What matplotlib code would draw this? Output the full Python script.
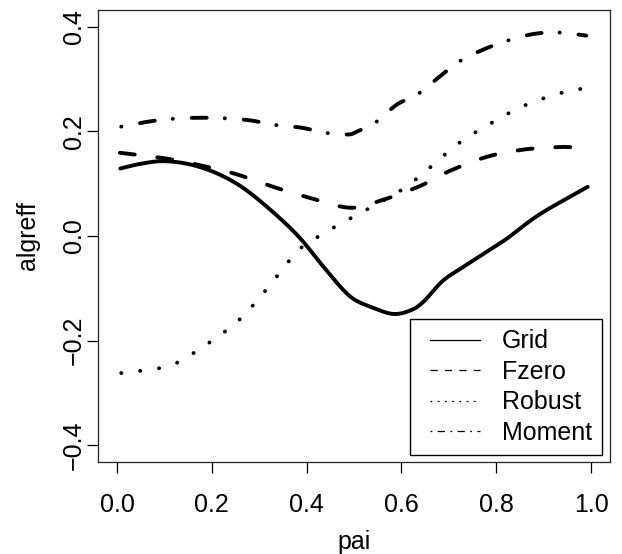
import numpy as np
import matplotlib.pyplot as plt
from matplotlib.lines import Line2D
from matplotlib.legend_handler import HandlerLine2D

# curves (pai -> algreff)
grid_x = [0.007, 0.05, 0.097, 0.153, 0.21, 0.266, 0.33, 0.385, 0.434, 0.491, 0.54,
          0.582, 0.617, 0.645, 0.687, 0.729, 0.77, 0.821, 0.891, 0.993]
grid_y = [0.129, 0.138, 0.143, 0.137, 0.12, 0.092, 0.045, -0.003, -0.057, -0.115, -0.137,
          -0.149, -0.143, -0.127, -0.086, -0.060, -0.036, -0.006, 0.041, 0.094]

fzero_x = [0.006, 0.104, 0.181, 0.252, 0.336, 0.406, 0.491, 0.554, 0.638, 0.701,
           0.779, 0.856, 0.934, 0.97]
fzero_y = [0.159, 0.148, 0.134, 0.118, 0.092, 0.073, 0.054, 0.067, 0.095, 0.124,
           0.151, 0.165, 0.170, 0.169]

robust_x = [0.009, 0.088, 0.127, 0.193, 0.257, 0.311, 0.361, 0.389, 0.455, 0.491,
            0.595, 0.658, 0.719, 0.786, 0.856, 0.931, 0.99]
robust_y = [-0.262, -0.253, -0.242, -0.205, -0.161, -0.107, -0.050, -0.022, 0.015, 0.033,
            0.085, 0.129, 0.176, 0.214, 0.248, 0.272, 0.283]

moment_x = [0.009, 0.062, 0.117, 0.174, 0.226, 0.281, 0.335, 0.389, 0.441, 0.487,
            0.505, 0.547, 0.590, 0.636, 0.681, 0.723, 0.772, 0.822, 0.878, 0.93, 0.99]
moment_y = [0.209, 0.218, 0.224, 0.226, 0.225, 0.221, 0.212, 0.207, 0.197, 0.194,
            0.199, 0.218, 0.251, 0.272, 0.305, 0.334, 0.356, 0.373, 0.386, 0.389, 0.383]

labels = ["Grid", "Fzero", "Robust", "Moment"]


def smooth(x, y):
    # Catmull-Rom through the read points
    x = np.asarray(x, float)
    y = np.asarray(y, float)
    px = np.concatenate([[2 * x[0] - x[1]], x, [2 * x[-1] - x[-2]]])
    py = np.concatenate([[2 * y[0] - y[1]], y, [2 * y[-1] - y[-2]]])
    out_x, out_y = [], []
    t = np.linspace(0, 1, 12, endpoint=False)
    for i in range(1, len(px) - 2):
        for arr, out in ((px, out_x), (py, out_y)):
            p0, p1, p2, p3 = arr[i - 1], arr[i], arr[i + 1], arr[i + 2]
            out.extend(0.5 * ((2 * p1) + (-p0 + p2) * t + (2 * p0 - 5 * p1 + 4 * p2 - p3) * t ** 2
                              + (-p0 + 3 * p1 - 3 * p2 + p3) * t ** 3))
    out_x.append(x[-1])
    out_y.append(y[-1])
    return np.array(out_x), np.array(out_y)


plt.rcParams["font.family"] = ["Liberation Sans", "DejaVu Sans"]
plt.rcParams["font.size"] = 18
plt.rcParams["lines.scale_dashes"] = False

fig = plt.figure(figsize=(6.22, 5.54), dpi=100)
ax = fig.add_axes([0.1576, 0.1661, 0.8231, 0.8159])

u = 3.4   # dash unit in points
lw = 2.8
styles = [
    "-",
    (0, (4 * u - lw, 4 * u + lw)),
    (0, (0.1, 4 * u)),
    (0, (0.1, 4 * u, 4 * u - lw, 3 * u + lw)),
]
series = [(grid_x, grid_y), (fzero_x, fzero_y), (robust_x, robust_y), (moment_x, moment_y)]
for (sx, sy), ls in zip(series, styles):
    cx, cy = smooth(sx, sy)
    ax.plot(cx, cy, color="black", lw=lw, linestyle=ls,
            dash_capstyle="round", solid_capstyle="round")

ax.set_xlim(-0.04, 1.04)
ax.set_ylim(-0.432, 0.432)
ax.set_xticks([0.0, 0.2, 0.4, 0.6, 0.8, 1.0])
ax.set_yticks([-0.4, -0.2, 0.0, 0.2, 0.4])
ax.set_xticklabels(["0.0", "0.2", "0.4", "0.6", "0.8", "1.0"])
ax.set_yticklabels(["\u22120.4", "\u22120.2", "0.0", "0.2", "0.4"], rotation=90, va="center")
ax.tick_params(direction="out", length=8, width=0.9)
ax.tick_params(axis="x", pad=14)
ax.tick_params(axis="y", pad=0.5)
for s in ax.spines.values():
    s.set_linewidth(0.9)
    s.set_color("#222222")
ax.set_xlabel("pai", labelpad=10)
ax.set_ylabel("algreff", labelpad=16)

u2 = 1.3
handles = [Line2D([0], [0], color="black", lw=0.9, linestyle=ls_) for ls_ in
           ["-", (0, (4 * u2, 4 * u2)), (0, (u2, 3 * u2)), (0, (u2, 3 * u2, 4 * u2, 3 * u2))]]
hmap = {h: HandlerLine2D(xpad=0.4) for h in handles}
leg = ax.legend(handles, labels, loc="lower right", bbox_to_anchor=(0.984, 0.0155),
                fancybox=False, edgecolor="black", framealpha=1, handlelength=2.4,
                handletextpad=0.85, labelspacing=0.26, borderpad=0.4, borderaxespad=0,
                handler_map=hmap)
leg.get_frame().set_linewidth(1.0)

fig.savefig("out.png", dpi=100)
